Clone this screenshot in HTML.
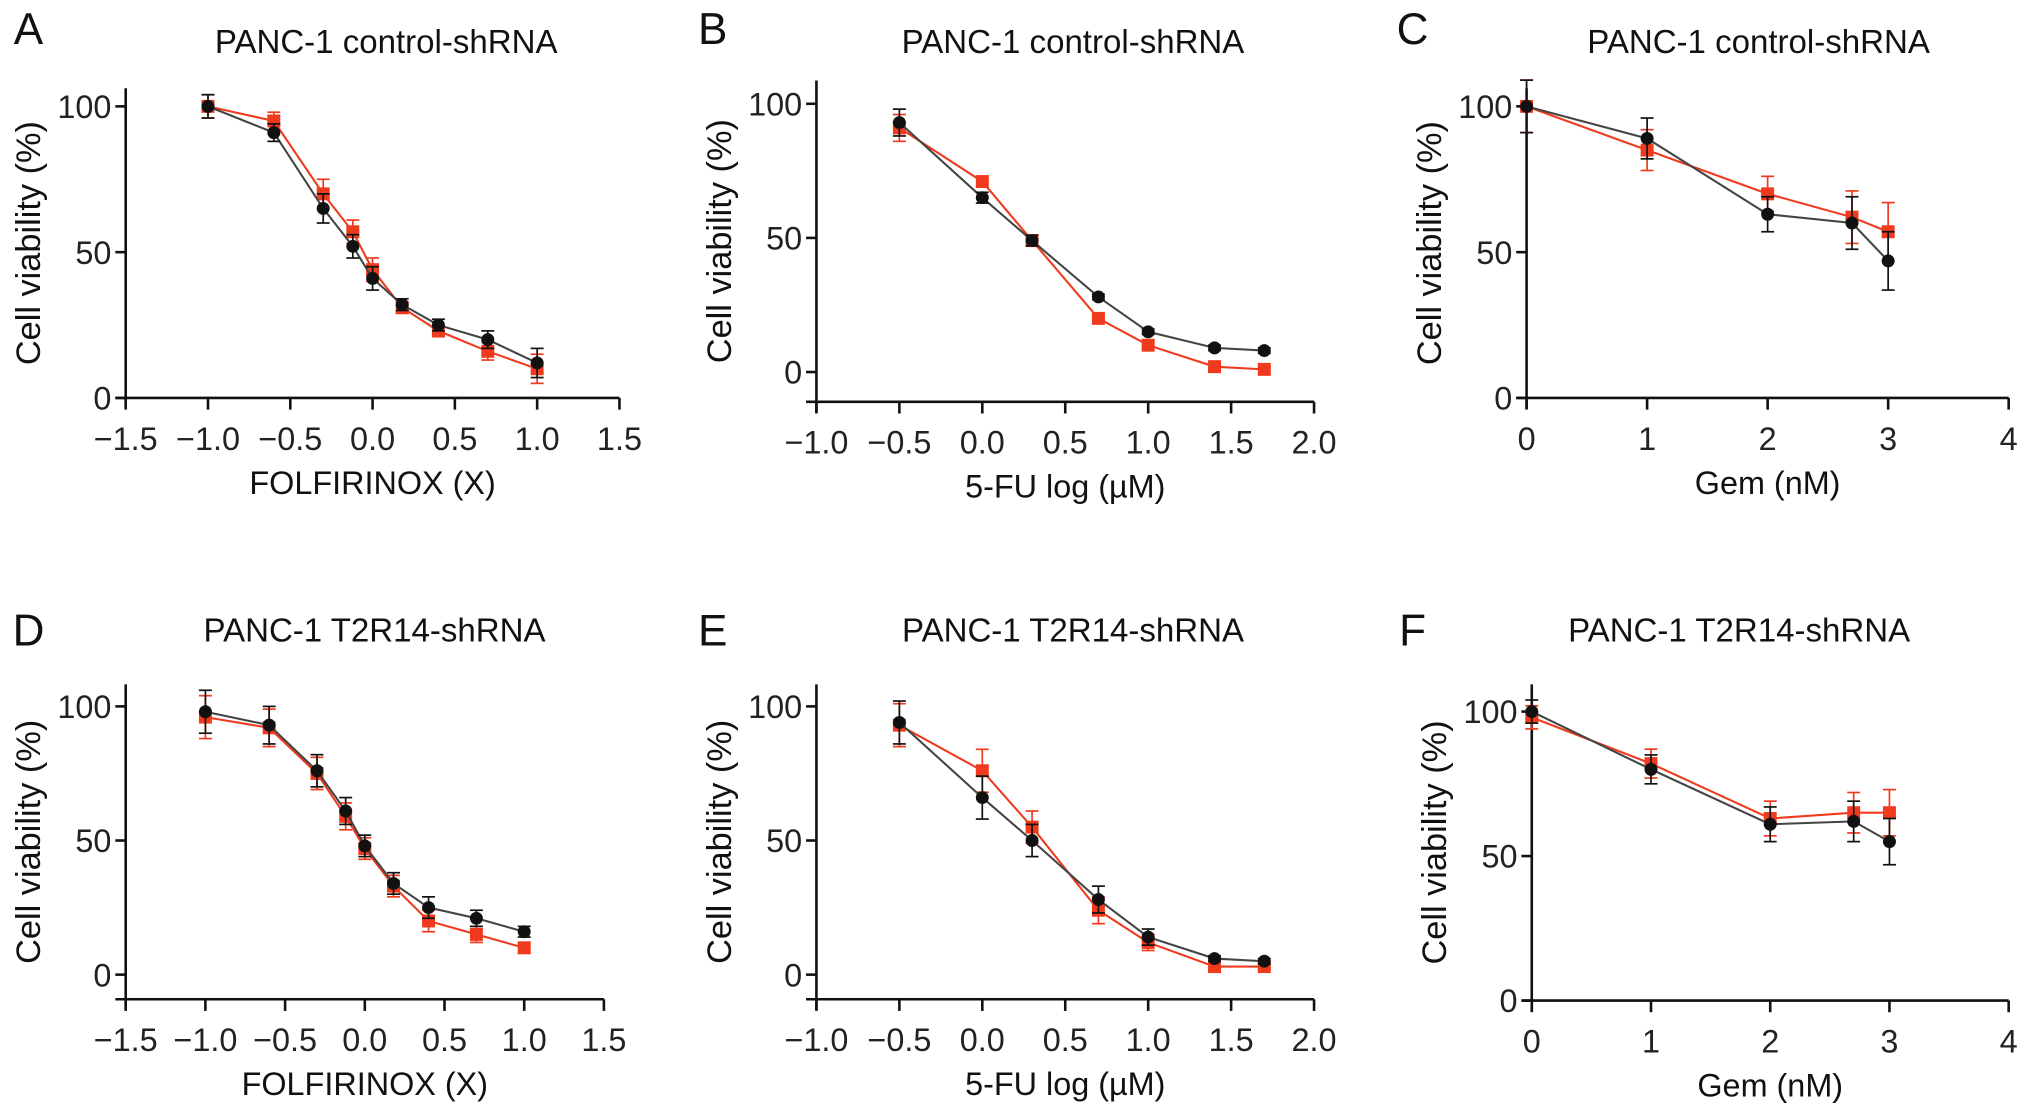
<!DOCTYPE html>
<html><head><meta charset="utf-8"><style>
html,body{margin:0;padding:0;background:#fff;}
svg{display:block;font-family:"Liberation Sans",Arial,sans-serif;}
</style></head><body>
<svg id="fig" width="2032" height="1116" viewBox="0 0 1568 861" xmlns="http://www.w3.org/2000/svg"></svg>
<script>
const folfX=[-1,-0.6,-0.3,-0.12,0,0.18,0.4,0.7,1.0];
const fuX=[-0.5,0,0.3,0.7,1.0,1.4,1.7];
const gemX=[0,1,2,2.7,3];
const aRed=[100,95,70,57,44,31,23,16,10];
const aBlack=[100,91,65,52,41,32,25,20,12];
const aErr=[4,3,5,4,4,2,2,3,5];
const bRed=[91,71,49,20,10,2,1];
const bBlack=[93,65,49,28,15,9,8];
const bErr=[5,2,2,1,1,1,1];
const cRed=[100,85,70,62,57];
const cBlack=[100,89,63,60,47];
const cErr=[9,7,6,9,10];
const dRed=[96,92,75,59,47,33,20,15,10];
const dBlack=[98,93,76,61,48,34,25,21,16];
const dErr=[8,7,6,5,4,4,4,3,2];
const eRed=[93,76,55,24,12,3,3];
const eBlack=[94,66,50,28,14,6,5];
const eErr=[8,8,6,5,3,1,1];
const fRed=[98,82,63,65,65];
const fBlack=[100,80,61,62,55];
const fErr=[4,5,6,7,8];
const folfTicks=["\u22121.5","\u22121.0","\u22120.5","0.0","0.5","1.0","1.5"];
const fuTicks=["\u22121.0","\u22120.5","0.0","0.5","1.0","1.5","2.0"];
const gemTicks=["0","1","2","3","4"];
const yTicks=[0,50,100];

const NS="http://www.w3.org/2000/svg";
const svg=document.getElementById('fig');
function el(tag,attrs,parent){const e=document.createElementNS(NS,tag);for(const k in attrs)e.setAttribute(k,attrs[k]);(parent||svg).appendChild(e);return e;}

const panels=[
 {id:'a',letter:'A',title:'PANC-1 control-shRNA',xl:'FOLFIRINOX (X)',ax:97,axEnd:478,xmin:-1.5,xmax:1.5,xt:folfTicks,xtv:[-1.5,-1,-0.5,0,0.5,1,1.5],ay:307,y100:82,y0:307,ytop:68,xs:folfX,red:aRed,blk:aBlack,err:aErr,lx:22,ly:22,tx:298,ty:32},
 {id:'b',letter:'B',title:'PANC-1 control-shRNA',xl:'5-FU log (\u00b5M)',ax:630,axEnd:1014,xmin:-1,xmax:2,xt:fuTicks,xtv:[-1,-0.5,0,0.5,1,1.5,2],ay:310,y100:80,y0:287,ytop:62,xs:fuX,red:bRed,blk:bBlack,err:bErr,lx:550,ly:22,tx:828,ty:32},
 {id:'c',letter:'C',title:'PANC-1 control-shRNA',xl:'Gem (nM)',ax:1178,axEnd:1550,xmin:0,xmax:4,xt:gemTicks,xtv:[0,1,2,3,4],ay:307,y100:82,y0:307,ytop:68,xs:gemX,red:cRed,blk:cBlack,err:cErr,lx:1090,ly:22,tx:1357,ty:32},
 {id:'d',letter:'D',title:'PANC-1 T2R14-shRNA',xl:'FOLFIRINOX (X)',ax:97,axEnd:466,xmin:-1.5,xmax:1.5,xt:folfTicks,xtv:[-1.5,-1,-0.5,0,0.5,1,1.5],ay:771,y100:545,y0:752,ytop:528,xs:folfX,red:dRed,blk:dBlack,err:dErr,lx:22,ly:486,tx:289,ty:486},
 {id:'e',letter:'E',title:'PANC-1 T2R14-shRNA',xl:'5-FU log (\u00b5M)',ax:630,axEnd:1014,xmin:-1,xmax:2,xt:fuTicks,xtv:[-1,-0.5,0,0.5,1,1.5,2],ay:771,y100:545,y0:752,ytop:528,xs:fuX,red:eRed,blk:eBlack,err:eErr,lx:550,ly:486,tx:828,ty:486},
 {id:'f',letter:'F',title:'PANC-1 T2R14-shRNA',xl:'Gem (nM)',ax:1182,axEnd:1550,xmin:0,xmax:4,xt:gemTicks,xtv:[0,1,2,3,4],ay:772,y100:549,y0:772,ytop:528,xs:gemX,red:fRed,blk:fBlack,err:fErr,lx:1090,ly:486,tx:1342,ty:486}
];

panels.forEach(p=>{
 const g=el('g',{});
 
 
 const X=v=>p.ax+(v-p.xmin)/(p.xmax-p.xmin)*(p.axEnd-p.ax);
 const Y=v=>p.y0+(p.y100-p.y0)*v/100;
 const L=el('text',{x:p.lx,y:p.ly+12,'font-size':34,'text-anchor':'middle',fill:'#111'},g);L.textContent=p.letter;
 
 const T=el('text',{x:p.tx,y:p.ty+9,'font-size':25.5,'text-anchor':'middle',fill:'#111'},g);T.textContent=p.title;
 
 const ya=el('line',{x1:p.ax,y1:p.ytop,x2:p.ax,y2:p.ay+8,stroke:'#111','stroke-width':2},g);
 
 const xa=el('line',{x1:p.ax-8,y1:p.ay,x2:p.axEnd,y2:p.ay,stroke:'#111','stroke-width':2},g);
 
 yTicks.forEach(v=>{
  el('line',{x1:p.ax-8,y1:Y(v),x2:p.ax,y2:Y(v),stroke:'#111','stroke-width':2},g);
  const t=el('text',{x:p.ax-11,y:Y(v)+9,'font-size':25,'text-anchor':'end',fill:'#222'},g);t.textContent=v;
  
 });
 p.xtv.forEach((v,i)=>{
  el('line',{x1:X(v),y1:p.ay,x2:X(v),y2:p.ay+9,stroke:'#111','stroke-width':2},g);
  const t=el('text',{x:X(v),y:p.ay+40,'font-size':25,'text-anchor':'middle',fill:'#222'},g);t.textContent=p.xt[i];
  
 });
 const xl=el('text',{x:(p.ax+p.axEnd)/2,y:p.ay+74,'font-size':25,'text-anchor':'middle',fill:'#111'},g);xl.textContent=p.xl;
 
 const cy=(p.ytop+p.ay)/2;
 const yl=el('text',{x:0,y:0,'font-size':26.5,'text-anchor':'middle',fill:'#111',transform:`translate(${p.ax-66},${cy}) rotate(-90)`},g);yl.textContent='Cell viability (%)';
 
 [['red','#f03a1e',p.red],['black','#111',p.blk]].forEach(([nm,col,vals])=>{
  const sg=el('g',{},g);
  
  const pts=vals.map((v,i)=>X(p.xs[i])+','+Y(v)).join(' ');
  const pl=el('polyline',{points:pts,fill:'none',stroke:nm==='red'?col:'#444','stroke-width':1.6},sg);
  
  vals.forEach((v,i)=>{
   const x=X(p.xs[i]),y=Y(v),e=(p.y0-p.y100)*p.err[i]/100;
   el('line',{x1:x,y1:y-e,x2:x,y2:y+e,stroke:col,'stroke-width':1.3},sg);
   el('line',{x1:x-5,y1:y-e,x2:x+5,y2:y-e,stroke:col,'stroke-width':1.3},sg);
   el('line',{x1:x-5,y1:y+e,x2:x+5,y2:y+e,stroke:col,'stroke-width':1.3},sg);
   let m;
   if(nm==='red'){m=el('rect',{x:x-5,y:y-5,width:10,height:10,fill:col},sg);}
   else{m=el('circle',{cx:x,cy:y,r:5,fill:col},sg);}
   
  });
 });
});
</script>
</body></html>
